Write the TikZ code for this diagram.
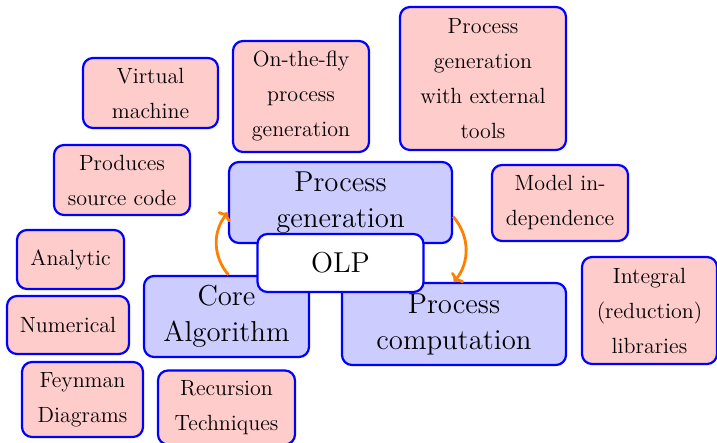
\documentclass[tikz,border=0pt]{standalone}
\usepackage{tikz}
\usetikzlibrary{arrows.meta, positioning}
\tikzset{
	topicbox/.style={draw=blue, line width=1.1pt, fill=blue!20, rounded corners=5pt, align=center, inner sep=1pt, font=\Large}
}
\tikzset{
	detailbox/.style={draw=blue, line width=1.1pt, fill=red!20, rounded corners=5pt, align=center, inner sep=1pt, font=\fontsize{11}{17.5}\selectfont}
}
\tikzset{
	hubbox/.style={draw=blue, line width=1.1pt, fill=white, rounded corners=5pt, inner sep=1pt, font=\Large},
	boxsize/.style 2 args={minimum width=#1pt, minimum height=#2pt},
	cyclearrow/.style={draw=orange, line width=1.4pt, -{To[length=3.5pt,width=8pt]}}
}

\begin{document}
\begin{tikzpicture}[x=0.5pt, y=-0.5pt]
      \useasboundingbox (0,0) rectangle (717,443);
      % satellite topics
      \node[detailbox, boxsize={67.5}{35}] (vm) at (150.5,93) {Virtual\\machine};
      \node[detailbox, boxsize={68}{55.5}] (otf) at (301,96.5) {On-the-fly\\process\\generation};
      \node[detailbox, boxsize={83}{71.5}] (ext) at (483,78.5) {Process\\generation\\with external\\tools};
      \node[detailbox, boxsize={68}{35}] (src) at (122,180) {Produces\\source code};
      \node[detailbox, boxsize={68}{38}] (model) at (560,203) {Model in-\\dependence};
      \node[detailbox, boxsize={53.5}{29.5}] (ana) at (70.5,259.5) {Analytic};
      \node[detailbox, boxsize={61}{29}] (num) at (68,325) {Numerical};
      \node[detailbox, boxsize={60.5}{37.5}] (feyn) at (82.5,399.5) {Feynman\\Diagrams};
      \node[detailbox, boxsize={68.5}{37}] (rec) at (226.5,407.5) {Recursion\\Techniques};
      \node[detailbox, boxsize={67.5}{53.5}] (lib) at (649.5,310.5) {Integral\\(reduction)\\libraries};
      % main parts
      \node[topicbox, boxsize={111.5}{40.5}] (pgen) at (340.5,202.5) {Process\\generation};
      \node[topicbox, boxsize={82.5}{40.5}] (core) at (226.5,316.5) {Core\\Algorithm};
      \node[topicbox, boxsize={112}{41}] (pcomp) at (454,324) {Process\\computation};
      \node[hubbox, boxsize={83}{29}] (olp) at (340.5,263) {OLP};
      \draw[cyclearrow] ([xshift=1pt]core.north) to[bend left=40] ([yshift=-5pt]pgen.west);
      \draw[cyclearrow] ([yshift=-7pt]pgen.east) to[bend left=40] (pcomp.north);
    \end{tikzpicture}
\end{document}
